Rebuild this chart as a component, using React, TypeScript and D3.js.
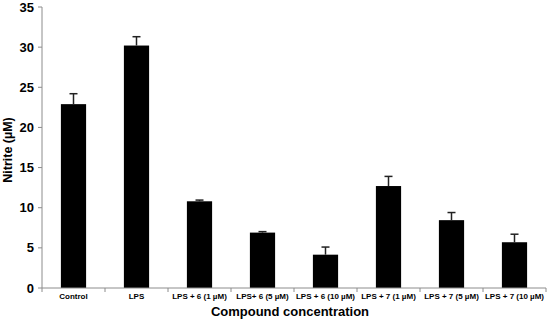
import React from "react";
import * as d3 from "d3";

const categories = [
  "Control",
  "LPS",
  "LPS + 6 (1 µM)",
  "LPS+ 6 (5 µM)",
  "LPS + 6 (10 µM)",
  "LPS + 7 (1 µM)",
  "LPS + 7 (5 µM)",
  "LPS + 7 (10 µM)",
];
const values = [22.9, 30.2, 10.8, 6.9, 4.15, 12.7, 8.45, 5.7];
const errors = [1.3, 1.1, 0.15, 0.12, 0.95, 1.2, 0.95, 1.0];
const yTicks = [0, 5, 10, 15, 20, 25, 30, 35];

const W = 550;
const H = 323;
const left = 42;
const right = 546;
const top = 7;
const bottom = 288;

export default function App() {
  const x = d3.scaleBand<string>().domain(categories).range([left, right]).paddingInner(0).paddingOuter(0);
  const y = d3.scaleLinear().domain([0, 35]).range([bottom, top]);
  const bw = x.bandwidth() * 0.4;
  const font = "'Liberation Sans', Arial, sans-serif";
  const axisColor = "#8c8c8c";
  return (
    <svg
      width={W}
      height={H}
      style={{ position: "absolute", left: 0, top: 0, background: "#fff" }}
      fontFamily={font}
    >
      {categories.map((c, i) => {
        const cx = (x(c) as number) + x.bandwidth() / 2;
        const yTop = y(values[i]);
        const yErr = y(values[i] + errors[i]);
        return (
          <g key={c}>
            <rect x={cx - bw / 2} y={yTop} width={bw} height={bottom - yTop} fill="#000" />
            <line x1={cx} x2={cx} y1={yTop} y2={yErr} stroke="#222" strokeWidth={1.5} />
            <line x1={cx - 4} x2={cx + 4} y1={yErr} y2={yErr} stroke="#222" strokeWidth={1.5} />
          </g>
        );
      })}
      <line x1={left} x2={left} y1={top} y2={bottom} stroke={axisColor} strokeWidth={1} />
      {yTicks.map((t) => (
        <g key={t}>
          <line x1={left - 4} x2={left} y1={y(t)} y2={y(t)} stroke={axisColor} />
          <text
            x={left - 8}
            y={y(t)}
            textAnchor="end"
            dominantBaseline="central"
            fontSize={13}
            fontWeight="bold"
            fill="#000"
          >
            {t}
          </text>
        </g>
      ))}
      <line x1={left} x2={right} y1={bottom} y2={bottom} stroke={axisColor} strokeWidth={1} />
      {categories.map((c, i) => (
        <line
          key={"t" + i}
          x1={(x(c) as number) + x.bandwidth()}
          x2={(x(c) as number) + x.bandwidth()}
          y1={bottom}
          y2={bottom + 4}
          stroke={axisColor}
        />
      ))}
      <line x1={left} x2={left} y1={bottom} y2={bottom + 4} stroke={axisColor} />
      {categories.map((c) => (
        <text
          key={"l" + c}
          x={(x(c) as number) + x.bandwidth() / 2}
          y={299}
          textAnchor="middle"
          fontSize={8}
          fontWeight="bold"
          fill="#000"
        >
          {c}
        </text>
      ))}
      <text x={290} y={316} textAnchor="middle" fontSize={13} fontWeight="bold" fill="#000">
        Compound concentration
      </text>
      <text
        transform={`translate(12, 150) rotate(-90)`}
        textAnchor="middle"
        fontSize={12.5}
        fontWeight="bold"
        fill="#000"
      >
        Nitrite (µM)
      </text>
    </svg>
  );
}
